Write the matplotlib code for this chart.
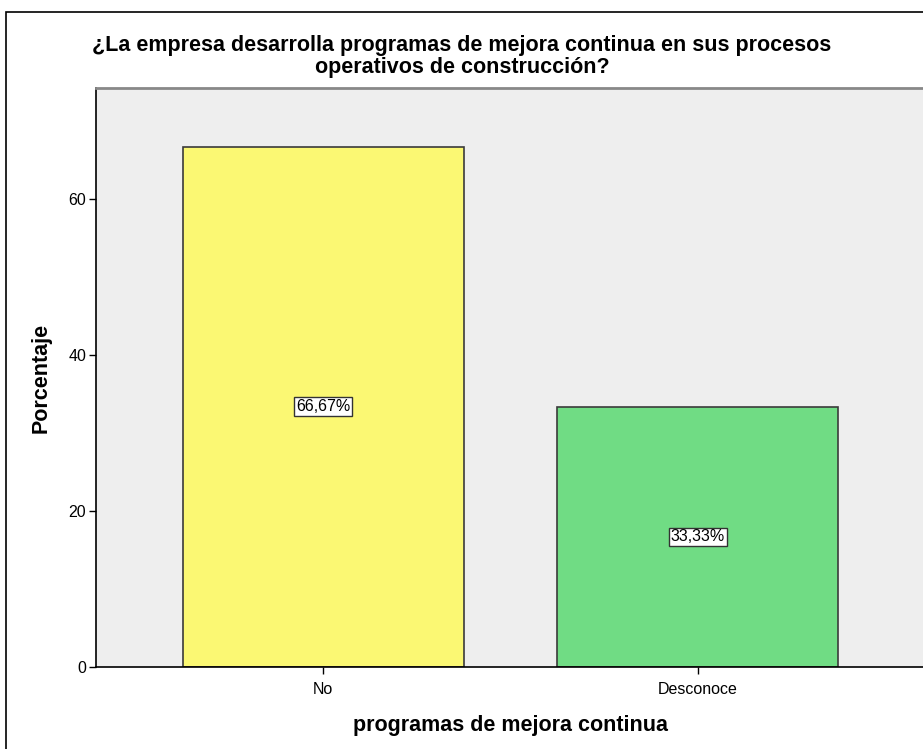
import matplotlib.pyplot as plt
from matplotlib.patches import Rectangle

# Frequency table: programas de mejora continua
categories = ["No", "Desconoce"]
percentages = [66.67, 33.33]
bar_colors = ["#FBF873", "#70DC84"]
value_labels = ["66,67%", "33,33%"]
y_ticks = [0, 20, 40, 60]

title_lines = [
    "¿La empresa desarrolla programas de mejora continua en sus procesos",
    "operativos de construcción?",
]

plt.rcParams["font.family"] = ["Liberation Sans", "DejaVu Sans"]

fig = plt.figure(figsize=(9.23, 7.49), dpi=100)
fig.patch.set_facecolor("white")

# outer chart frame (cut off at right and bottom)
fig.patches.append(Rectangle((6 / 923, -0.1), 1.2, (749 - 12) / 749 + 0.1,
                             transform=fig.transFigure, fill=False,
                             edgecolor="black", linewidth=1.2))

ax = fig.add_axes([96 / 923, 82 / 749, 829 / 923, 579 / 749])
ax.set_facecolor("#EEEEEE")

x = list(range(len(categories)))
ax.bar(x, percentages, width=0.75, color=bar_colors, edgecolor="#3A3A3A",
       linewidth=1.2, zorder=2)

for xi, val, lab in zip(x, percentages, value_labels):
    ax.text(xi, val / 2, lab, ha="center", va="center", fontsize=11.5,
            bbox=dict(boxstyle="square,pad=0.12", facecolor="white",
                      edgecolor="#333333", linewidth=1.0), zorder=3)

ax.set_xlim(-0.607, 1.607)
ax.set_ylim(0, 74.2)
ax.set_xticks(x)
ax.set_xticklabels(categories)
ax.set_yticks(y_ticks)
ax.tick_params(axis="both", length=5, width=1, colors="black", labelsize=11.5)
ax.tick_params(axis="x", pad=6)
ax.tick_params(axis="y", pad=2)

for side in ["left", "bottom"]:
    ax.spines[side].set_color("black")
    ax.spines[side].set_linewidth(1.2)
ax.spines["top"].set_color("#888888")
ax.spines["top"].set_linewidth(2)
ax.spines["right"].set_visible(False)

ax.set_ylabel("Porcentaje", fontsize=15.5, fontweight="bold", labelpad=12)
ax.set_xlabel("programas de mejora continua", fontsize=15.5, fontweight="bold",
              labelpad=13)

# two-line title, lines placed separately to keep them tight
fig.text(462 / 923, 1 - 46 / 749, title_lines[0], ha="center", va="center",
         fontsize=15.5, fontweight="bold")
fig.text(462 / 923, 1 - 67 / 749, title_lines[1], ha="center", va="center",
         fontsize=15.5, fontweight="bold")

fig.savefig("out.png", dpi=100)
